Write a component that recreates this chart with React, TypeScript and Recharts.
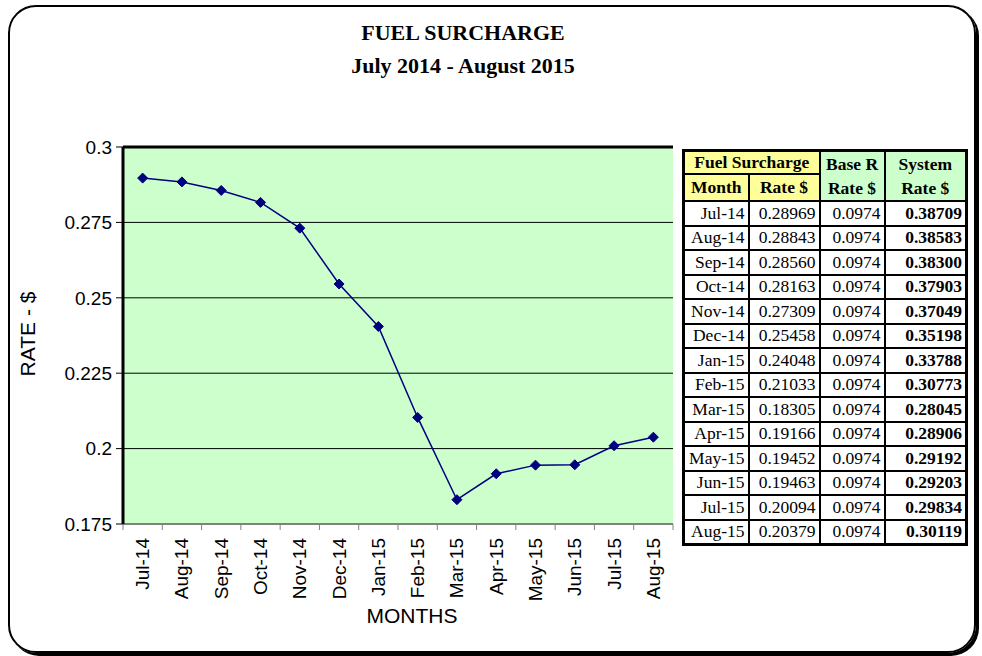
import React from 'react';
import { LineChart, Line, XAxis, YAxis, CartesianGrid, ReferenceLine } from 'recharts';

const months = ['Jul-14', 'Aug-14', 'Sep-14', 'Oct-14', 'Nov-14', 'Dec-14', 'Jan-15', 'Feb-15', 'Mar-15', 'Apr-15', 'May-15', 'Jun-15', 'Jul-15', 'Aug-15'];
const fuelRates = [0.28969, 0.28843, 0.2856, 0.28163, 0.27309, 0.25458, 0.24048, 0.21033, 0.18305, 0.19166, 0.19452, 0.19463, 0.20094, 0.20379];
const baseRates = [0.0974, 0.0974, 0.0974, 0.0974, 0.0974, 0.0974, 0.0974, 0.0974, 0.0974, 0.0974, 0.0974, 0.0974, 0.0974, 0.0974];
const systemRates = [0.38709, 0.38583, 0.383, 0.37903, 0.37049, 0.35198, 0.33788, 0.30773, 0.28045, 0.28906, 0.29192, 0.29203, 0.29834, 0.30119];
const yTicks = [0.175, 0.2, 0.225, 0.25, 0.275, 0.3];

const data = months.map((m, i) => ({ month: m, rate: fuelRates[i] }));

const SERIF = '"Palatino Linotype", "Book Antiqua", Palatino, "Liberation Serif", serif';
const SANS = 'Arial, "Liberation Sans", sans-serif';

// plot spans 123..673, so each category band is this wide
const BAND = (673 - 123) / months.length;

const MonthTick = (props: any) => {
  const { x, y, payload, index } = props;
  return (
    <g>
      <line x1={x - BAND / 2} x2={x - BAND / 2} y1={y} y2={y + 6} stroke="#808080" />
      {index === months.length - 1 && (
        <line x1={x + BAND / 2} x2={x + BAND / 2} y1={y} y2={y + 6} stroke="#808080" />
      )}
      <text
        x={0}
        y={0}
        transform={`translate(${x},${y + 14}) rotate(-90)`}
        textAnchor="end"
        dominantBaseline="central"
        fontSize={19}
        fontFamily={SANS}
        fill="#000"
      >
        {payload.value}
      </text>
    </g>
  );
};

const Diamond = (props: any) => {
  const { cx, cy, index } = props;
  const s = 5;
  return (
    <path
      key={`d-${index}`}
      d={`M${cx},${cy - s}L${cx + s},${cy}L${cx},${cy + s}L${cx - s},${cy}Z`}
      fill="#000080"
      stroke="#000080"
    />
  );
};

const cell: React.CSSProperties = {
  border: '2px solid #000',
  padding: '0 3px',
  textAlign: 'right',
  background: '#fff',
};
const yellow: React.CSSProperties = { ...cell, background: '#FFFF99', textAlign: 'center', fontWeight: 'bold' };
const green: React.CSSProperties = { ...cell, background: '#CCFFCC', textAlign: 'center', fontWeight: 'bold', lineHeight: '24px' };

const RateTable = () => (
  <table
    style={{
      position: 'absolute',
      left: 682,
      top: 149,
      width: 285,
      tableLayout: 'fixed',
      borderCollapse: 'collapse',
      border: '3px solid #000',
      fontFamily: SERIF,
      fontSize: 17.5,
      color: '#000',
    }}
  >
    <colgroup>
      <col style={{ width: 65 }} />
      <col style={{ width: 71 }} />
      <col style={{ width: 65 }} />
      <col style={{ width: 82 }} />
    </colgroup>
    <tbody>
      <tr style={{ height: 23 }}>
        <td colSpan={2} style={yellow}>Fuel Surcharge</td>
        <td rowSpan={2} style={green}>Base R<br />Rate $</td>
        <td rowSpan={2} style={green}>System<br />Rate $</td>
      </tr>
      <tr style={{ height: 27 }}>
        <td style={yellow}>Month</td>
        <td style={yellow}>Rate $</td>
      </tr>
      {months.map((m, i) => (
        <tr key={m} style={{ height: 24.5 }}>
          <td style={cell}>{m}</td>
          <td style={cell}>{fuelRates[i].toFixed(5)}</td>
          <td style={cell}>{baseRates[i].toFixed(4)}</td>
          <td style={{ ...cell, fontWeight: 'bold' }}>{systemRates[i].toFixed(5)}</td>
        </tr>
      ))}
    </tbody>
  </table>
);

export default function App() {
  return (
    <div style={{ position: 'absolute', left: 0, top: 0, width: 982, height: 656, background: '#fff', overflow: 'hidden' }}>
      <div
        style={{
          position: 'absolute',
          left: 8,
          top: 5,
          width: 964,
          height: 644,
          border: '2px solid #000',
          borderRadius: 28,
          boxShadow: '3px 3px 0 #000',
        }}
      />
      <div style={{ position: 'absolute', left: 0, top: 16, width: 926, textAlign: 'center', fontFamily: SERIF, fontWeight: 'bold', fontSize: 22, lineHeight: '33px' }}>
        FUEL SURCHARGE
        <br />
        July 2014 - August 2015
      </div>
      <div style={{ position: 'absolute', left: 0, top: 0 }}>
        <LineChart width={982} height={656} data={data} margin={{ top: 147, right: 309, left: 0, bottom: 0 }}>
          <CartesianGrid vertical={false} stroke="#000" fill="#CCFFCC" />
          <XAxis
            dataKey="month"
            height={132}
            padding={{ left: BAND / 2, right: BAND / 2 }}
            tick={<MonthTick />}
            tickLine={false}
            tickSize={0}
            tickMargin={0}
            interval={0}
            axisLine={{ stroke: '#808080', strokeWidth: 2 }}
          />
          <YAxis
            width={123}
            domain={[0.175, 0.3]}
            ticks={yTicks}
            tick={{ fontSize: 19, fill: '#000', fontFamily: SANS }}
            tickSize={7}
            tickMargin={4}
            tickLine={{ stroke: '#000' }}
            axisLine={{ stroke: '#000', strokeWidth: 3 }}
          />
          <YAxis
            yAxisId="r"
            orientation="right"
            width={0}
            tick={false}
            tickLine={false}
            axisLine={{ stroke: '#808080', strokeWidth: 2 }}
          />
          <ReferenceLine y={0.3} stroke="#000" strokeWidth={3} />
          <Line
            type="linear"
            dataKey="rate"
            stroke="#000080"
            strokeWidth={1.5}
            dot={<Diamond />}
            activeDot={false}
            isAnimationActive={false}
          />
        </LineChart>
      </div>
      <div
        style={{
          position: 'absolute',
          left: 13,
          top: 322,
          width: 30,
          height: 24,
          fontFamily: SANS,
          fontSize: 21,
          lineHeight: '24px',
          whiteSpace: 'nowrap',
          display: 'flex',
          justifyContent: 'center',
          transform: 'rotate(-90deg)',
        }}
      >
        RATE - $
      </div>
      <div style={{ position: 'absolute', left: 362, top: 604, width: 100, textAlign: 'center', fontFamily: SANS, fontSize: 21, lineHeight: '24px' }}>
        MONTHS
      </div>
      <RateTable />
    </div>
  );
}
